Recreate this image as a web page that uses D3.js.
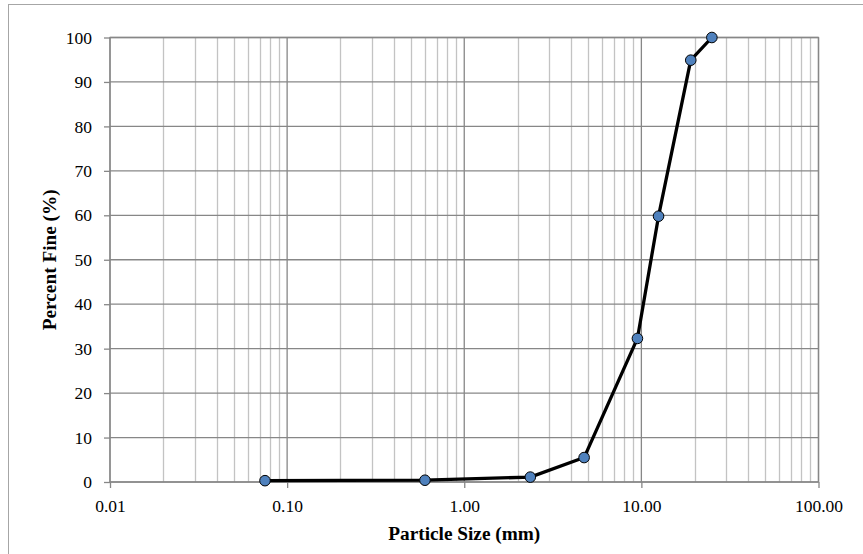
<!DOCTYPE html>
<html>
<head>
<meta charset="utf-8">
<script src="https://cdn.jsdelivr.net/npm/d3@7"></script>
<style>
  html, body { margin: 0; padding: 0; background: #fff; }
  svg { display: block; }
</style>
</head>
<body>
<svg id="chart" width="863" height="554"></svg>
<script>
// Sieve analysis: particle size (mm) vs. percent passing
const sieveSizes = [0.075, 0.6, 2.36, 4.75, 9.5, 12.5, 19, 25];
const percentFine = [0.3, 0.4, 1.1, 5.5, 32.3, 59.8, 94.9, 100];
const xTickValues = [0.01, 0.1, 1, 10, 100];
const yTickValues = [0, 10, 20, 30, 40, 50, 60, 70, 80, 90, 100];

const svg = d3.select("#chart");
const W = 863, H = 554;
const plot = { left: 110, right: 818.5, top: 37.5, bottom: 482 };

const font = "'Liberation Serif', 'Times New Roman', serif";
const majorGrid = "#878787";
const minorGrid = "#c3c3c3";

// Chart frame (extends past right/bottom edges)
svg.append("rect")
  .attr("x", 8.5).attr("y", 4.5)
  .attr("width", W + 20).attr("height", H + 20)
  .attr("fill", "#fff")
  .attr("stroke", "#a6a6a6").attr("stroke-width", 1);

const x = d3.scaleLog().domain([0.01, 100]).range([plot.left, plot.right]);
const y = d3.scaleLinear().domain([0, 100]).range([plot.bottom, plot.top]);

// Minor vertical gridlines (2..9 within each decade)
const minorX = [];
for (let e = -2; e < 2; e++) {
  for (let m = 2; m <= 9; m++) minorX.push(m * Math.pow(10, e));
}
svg.append("g").selectAll("line").data(minorX).join("line")
  .attr("x1", d => Math.round(x(d)) + 0.5).attr("x2", d => Math.round(x(d)) + 0.5)
  .attr("y1", plot.top).attr("y2", plot.bottom)
  .attr("stroke", minorGrid).attr("stroke-width", 1.3);

// Major horizontal gridlines
svg.append("g").selectAll("line").data(yTickValues).join("line")
  .attr("x1", plot.left).attr("x2", plot.right)
  .attr("y1", d => y(d)).attr("y2", d => y(d))
  .attr("stroke", majorGrid).attr("stroke-width", 1.3);

// Major vertical gridlines (decades)
svg.append("g").selectAll("line").data(xTickValues).join("line")
  .attr("x1", d => x(d)).attr("x2", d => x(d))
  .attr("y1", plot.top).attr("y2", plot.bottom)
  .attr("stroke", majorGrid).attr("stroke-width", 1.3);

// Plot area outline
svg.append("rect")
  .attr("x", plot.left).attr("y", plot.top)
  .attr("width", plot.right - plot.left).attr("height", plot.bottom - plot.top)
  .attr("fill", "none").attr("stroke", majorGrid).attr("stroke-width", 1.3);

// Axes
const xAxis = d3.axisBottom(x)
  .tickValues(xTickValues)
  .tickFormat(d3.format(".2f"))
  .tickSizeInner(6).tickSizeOuter(0).tickPadding(8);
const gx = svg.append("g")
  .attr("transform", `translate(0,${plot.bottom})`)
  .call(xAxis);
gx.select(".domain").remove();
gx.selectAll(".tick line").attr("stroke", majorGrid).attr("stroke-width", 1.3);
gx.selectAll(".tick text")
  .attr("font-family", font).attr("font-size", "17.5px").attr("fill", "#000")
  .attr("dy", "0.9em");

const yAxis = d3.axisLeft(y)
  .tickValues(yTickValues)
  .tickFormat(d3.format("d"))
  .tickSizeInner(6).tickSizeOuter(0).tickPadding(12);
const gy = svg.append("g")
  .attr("transform", `translate(${plot.left},0)`)
  .call(yAxis);
gy.select(".domain").remove();
gy.selectAll(".tick line").attr("stroke", majorGrid).attr("stroke-width", 1.3);
gy.selectAll(".tick text")
  .attr("font-family", font).attr("font-size", "17.5px").attr("fill", "#000");

// Axis titles
svg.append("text")
  .attr("x", (plot.left + plot.right) / 2).attr("y", 539.5)
  .attr("text-anchor", "middle")
  .attr("font-family", font).attr("font-size", "19.3px").attr("font-weight", "bold")
  .text("Particle Size (mm)");

svg.append("text")
  .attr("transform", `translate(55.5,${(plot.top + plot.bottom) / 2}) rotate(-90)`)
  .attr("text-anchor", "middle")
  .attr("font-family", font).attr("font-size", "19.3px").attr("font-weight", "bold")
  .text("Percent Fine (%)");

// Gradation curve
const data = sieveSizes.map((s, i) => ({ size: s, pct: percentFine[i] }));
const line = d3.line().x(d => x(d.size)).y(d => y(d.pct));
svg.append("path")
  .datum(data)
  .attr("d", line)
  .attr("fill", "none")
  .attr("stroke", "#000").attr("stroke-width", 3.3)
  .attr("stroke-linejoin", "round");

svg.append("g").selectAll("circle").data(data).join("circle")
  .attr("cx", d => x(d.size)).attr("cy", d => y(d.pct))
  .attr("r", 5.3)
  .attr("fill", "#4f81bd")
  .attr("stroke", "#000").attr("stroke-width", 1);
</script>
</body>
</html>
